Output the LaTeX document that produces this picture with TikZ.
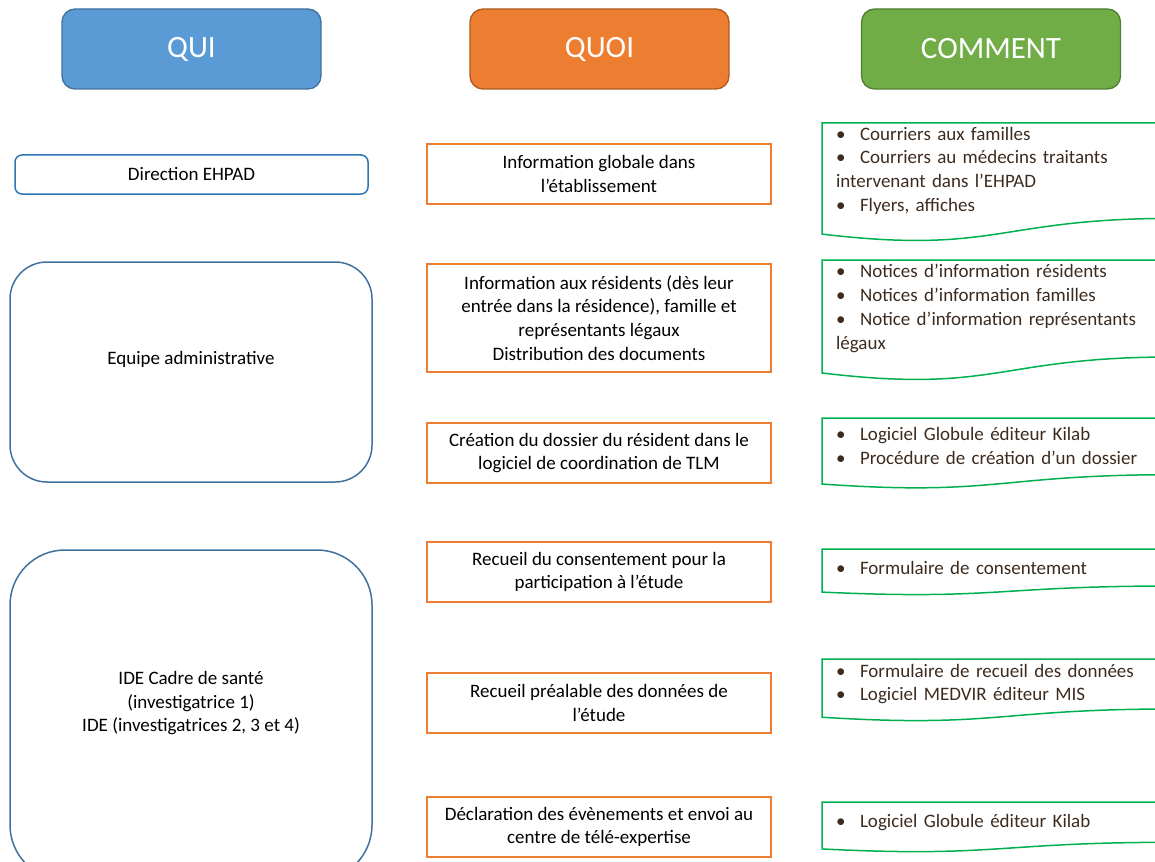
\documentclass[tikz,border=0pt]{standalone}
\usepackage{fontspec}
\setmainfont{Carlito}
\usetikzlibrary{positioning, calc}

\definecolor{quiblue}{HTML}{5B9BD5}
\definecolor{quiedge}{HTML}{41719C}
\definecolor{quoiorange}{HTML}{ED7D31}
\definecolor{quoiedge}{HTML}{AE5A21}
\definecolor{commentgreen}{HTML}{70AD47}
\definecolor{commentedge}{HTML}{507E32}
\definecolor{docgreen}{HTML}{00B050}
\definecolor{doctext}{HTML}{3D2B1F}
\definecolor{diredge}{HTML}{2E75B6}

\newcommand{\puce}{\makebox[24pt][l]{•}}

\begin{document}
\begin{tikzpicture}[
  x=1pt, y=-1pt,
  font=\fontsize{19}{23.8}\selectfont,
  head/.style 2 args={draw=#2, fill=#1, line width=1.3pt, rounded corners=13pt, minimum width=259pt, minimum height=80pt, text=white, font=\fontsize{31}{37}\selectfont},
  who/.style={draw=quiedge, line width=1.5pt, rectangle, minimum width=362pt, align=center},
  what/.style={draw=quoiorange, line width=1.5pt, rectangle, minimum width=344pt, minimum height=60pt, align=center, inner sep=0pt},
  how/.style={anchor=north west, inner xsep=14pt, inner ysep=0pt, outer sep=0pt, text width=322pt, align=left, text=doctext},
  docline/.style={draw=docgreen, line width=1.5pt}
]

  \useasboundingbox (0,0) rectangle (1155,861);
  \clip (0,0) rectangle (1155,861);

  % En-tetes des colonnes
  \node[head={quiblue}{quiedge}] (qui) at (191.5,49) {QUI};
  \node[head={quoiorange}{quoiedge}] (quoi) at (599.5,49) {QUOI};
  \node[head={commentgreen}{commentedge}] (comment) at (991,49) {COMMENT};

  % Colonne QUI : acteurs
  \node[who, draw=diredge, minimum width=353pt, minimum height=39pt, rounded corners=7pt] (direction) at (191.5,174.5) {Direction EHPAD};
  \node[who, minimum height=220pt, rounded corners=37pt, text depth=28pt] (equipe) at (191,372) {Equipe administrative};
  \node[who, minimum height=330pt, rounded corners=55pt, text depth=27pt] (ide) at (191,715) {IDE Cadre de santé\\(investigatrice 1)\\IDE (investigatrices 2, 3 et 4)};

  % Colonne QUOI : actions
  \node[what] (info) at (599,174) {Information globale dans\\l’établissement};
  \node[what, minimum height=108pt, below=58.5pt of info] (residents) {Information aux résidents (dès leur\\entrée dans la résidence), famille et\\représentants légaux\\Distribution des documents};
  \node[what, below=49.5pt of residents] (dossier) {Création du dossier du résident dans le\\logiciel de coordination de TLM};
  \node[what, below=57.5pt of dossier] (consent) {Recueil du consentement pour la\\participation à l’étude};
  \node[what, below=69.5pt of consent] (recueil) {Recueil préalable des données de\\l’étude};
  \node[what, below=62.5pt of recueil] (declaration) {Déclaration des évènements et envoi au\\centre de télé-expertise};

  % Colonne COMMENT : supports
  \node[how, minimum height=95.4pt] (how1) at (822,123) {\puce Courriers aux familles\\\puce Courriers au médecins traitants\\intervenant dans l’EHPAD\\\puce Flyers, affiches};
  \node[how, minimum height=97pt] (how2) at (822,260) {\puce Notices d’information résidents\\\puce Notices d’information familles\\\puce Notice d’information représentants\\légaux};
  \node[how, minimum height=56.7pt] (how3) at (822,418) {\puce Logiciel Globule éditeur Kilab\\\puce Procédure de création d’un dossier};
  \node[how, minimum height=37pt] (how4) at (822,549) {\puce Formulaire de consentement};
  \node[how, minimum height=50pt] (how5) at (822,659) {\puce Formulaire de recueil des données\\\puce Logiciel MEDVIR éditeur MIS};
  \node[how, minimum height=40.3pt] (how6) at (822,802) {\puce Logiciel Globule éditeur Kilab};

  % Contours "document" a bord inferieur ondule
  \foreach \i in {1,...,6}
    \draw[docline] (how\i.north west) -- (how\i.north east) -- (how\i.south east)
      .. controls (how\i.south) and ($(how\i.north)!1.3815!(how\i.south)$)
      .. ($(how\i.north west)!1.1646!(how\i.south west)$) -- cycle;

\end{tikzpicture}
\end{document}
